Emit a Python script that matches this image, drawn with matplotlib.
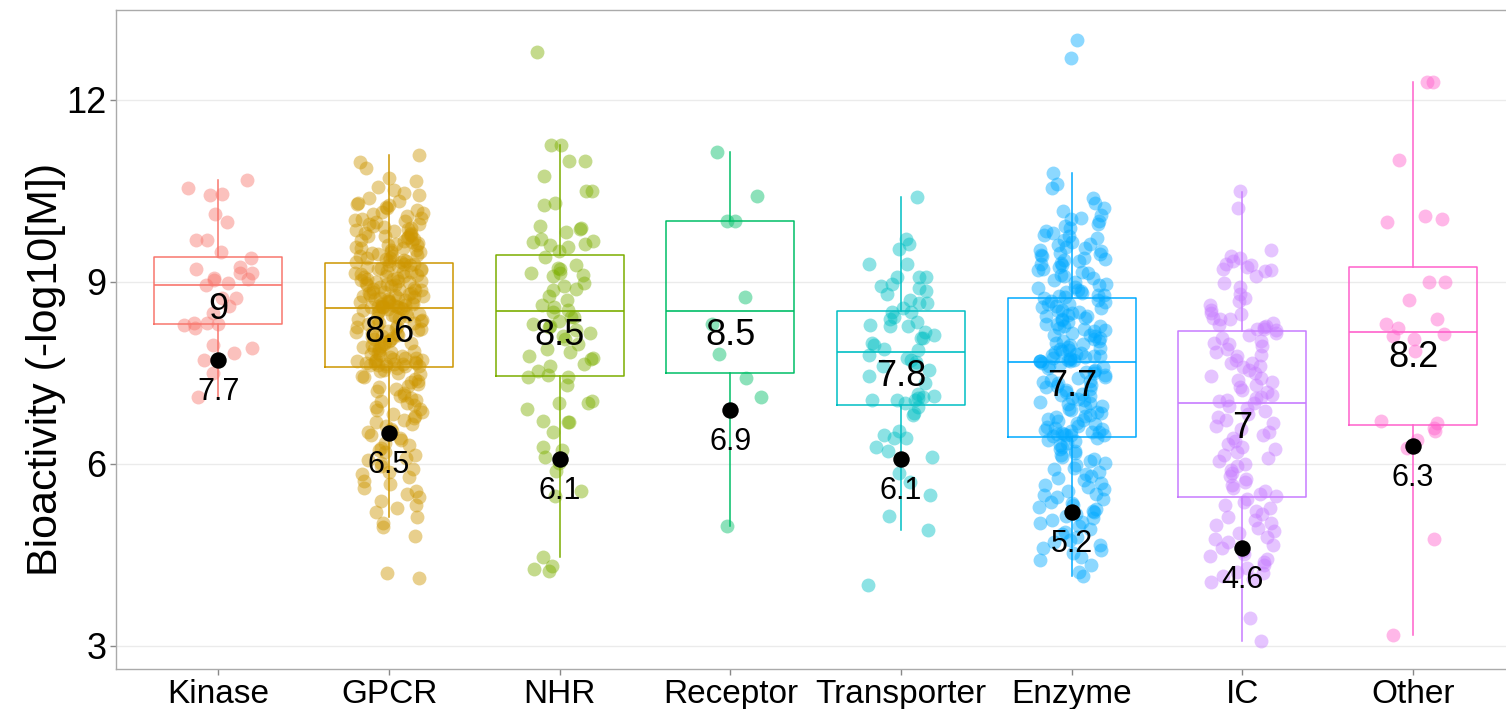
import numpy as np
import matplotlib
matplotlib.use('Agg')
from matplotlib import pyplot as plt

plt.rcParams['font.family'] = ['Liberation Sans', 'DejaVu Sans']

categories = ['Kinase', 'GPCR', 'NHR', 'Receptor', 'Transporter', 'Enzyme', 'IC', 'Other']
colors = ['#F8766D', '#CD9600', '#7CAE00', '#00BE67', '#00BFC4', '#00A9FF', '#C77CFF', '#FF61CC']

# points, one list per target class
kinase = [10.68, 10.55, 10.45, 10.43, 10.12, 9.99, 9.69, 9.69, 9.49, 9.40, 9.25, 9.21, 9.15, 9.15,
          9.06, 9.05, 9.03, 8.98, 8.95, 8.74, 8.74, 8.60, 8.49, 8.32, 8.32, 8.31, 8.29, 8.24,
          7.96, 7.91, 7.83, 7.71, 7.50, 7.10]

gpcr = [11.09, 10.98, 10.88, 10.71, 10.66, 10.57, 10.52, 10.47, 10.43, 10.39, 10.34, 10.3, 10.28, 10.26,
        10.23, 10.21, 10.19, 10.15, 10.14, 10.11, 10.08, 10.06, 10.04, 10.02, 10.01, 9.98, 9.96, 9.95,
        9.92, 9.9, 9.88, 9.87, 9.85, 9.84, 9.81, 9.8, 9.79, 9.77, 9.76, 9.75, 9.74, 9.72, 9.71, 9.69,
        9.67, 9.66, 9.64, 9.62, 9.61, 9.6, 9.58, 9.56, 9.55, 9.53, 9.52, 9.5, 9.49, 9.47, 9.46, 9.45,
        9.43, 9.42, 9.4, 9.39, 9.37, 9.36, 9.35, 9.34, 9.33, 9.32,
        9.3, 9.29, 9.28, 9.27, 9.26, 9.24, 9.23, 9.22, 9.21, 9.19, 9.18, 9.17, 9.16, 9.14, 9.13, 9.12,
        9.1, 9.09, 9.08, 9.07, 9.05, 9.04, 9.03, 9.02, 9.01, 9.0, 8.99, 8.98, 8.96, 8.95, 8.94, 8.93,
        8.92, 8.9, 8.89, 8.88, 8.87, 8.86, 8.84, 8.83, 8.82, 8.81, 8.8, 8.79, 8.78, 8.77, 8.76, 8.75,
        8.74, 8.73, 8.72, 8.71, 8.7, 8.69, 8.68, 8.67, 8.66, 8.65, 8.64, 8.63, 8.62, 8.62, 8.61, 8.6,
        8.6, 8.59, 8.59, 8.58, 8.58, 8.57,
        8.56, 8.55, 8.53, 8.52, 8.5, 8.49, 8.47, 8.46, 8.44, 8.43, 8.41, 8.4, 8.38, 8.37, 8.35, 8.33,
        8.32, 8.3, 8.29, 8.27, 8.26, 8.24, 8.22, 8.21, 8.19, 8.17, 8.16, 8.14, 8.12, 8.11, 8.09, 8.07,
        8.06, 8.04, 8.02, 8.01, 7.99, 7.97, 7.96, 7.94, 7.92, 7.91, 7.89, 7.87, 7.86, 7.84, 7.82, 7.81,
        7.79, 7.78, 7.76, 7.75, 7.74, 7.73, 7.72, 7.71, 7.7, 7.69, 7.68, 7.67, 7.66, 7.66, 7.65, 7.64,
        7.64, 7.63, 7.63, 7.62, 7.62, 7.61,
        7.58, 7.55, 7.53, 7.5, 7.48, 7.45, 7.43, 7.4, 7.37, 7.35, 7.32, 7.29, 7.26,
        7.23, 7.2, 7.17, 7.14, 7.12, 7.09, 7.06, 7.03, 7.01,
        6.97, 6.94, 6.91, 6.88, 6.85, 6.82, 6.79, 6.76,
        6.72, 6.69, 6.65, 6.62, 6.58, 6.55, 6.52,
        6.47, 6.43, 6.39, 6.35, 6.31, 6.27,
        6.23, 6.19, 6.14, 6.1, 6.06, 6.02,
        5.97, 5.92, 5.87, 5.83, 5.78,
        5.72, 5.67, 5.61, 5.56, 5.51,
        5.46, 5.39, 5.33, 5.28,
        5.2, 5.12, 5.03, 4.96, 4.81, 4.2, 4.12]

nhr = [12.79, 11.26, 11.26, 10.99, 10.99, 10.75, 10.50, 10.50, 10.30, 10.27, 9.92, 9.89, 9.87, 9.82,
       9.71, 9.68, 9.66, 9.63, 9.61, 9.58, 9.51, 9.41, 9.28, 9.23, 9.21, 9.15, 9.15, 9.12, 9.10,
       8.98, 8.93, 8.88, 8.87, 8.77, 8.70, 8.62, 8.59, 8.54, 8.51, 8.42, 8.42, 8.36, 8.30, 8.27,
       8.26, 8.20, 8.15, 8.10, 8.05, 7.98, 7.90, 7.85, 7.78, 7.75, 7.73, 7.65, 7.62, 7.53, 7.47,
       7.43, 7.43, 7.30, 7.04, 7.01, 7.01, 6.91, 6.71, 6.69, 6.69, 6.53, 6.28, 6.23, 6.12, 6.07,
       6.02, 5.88, 5.55, 5.47, 4.47, 4.32, 4.27, 4.24]

receptor = [11.14, 10.42, 10.0, 10.0, 8.75, 8.31, 7.81, 7.42, 7.11, 4.98]

transporter = [10.40, 9.71, 9.63, 9.54, 9.30, 9.30, 9.08, 9.08, 9.08, 8.97, 8.93, 8.90, 8.85, 8.80,
               8.70, 8.65, 8.65, 8.57, 8.51, 8.51, 8.42, 8.39, 8.34, 8.29, 8.27, 8.27, 8.18, 8.13,
               8.08, 8.08, 8.00, 7.96, 7.90, 7.88, 7.80, 7.75, 7.72, 7.68, 7.63, 7.62, 7.55, 7.45,
               7.34, 7.15, 7.12, 7.10, 7.08, 7.05, 7.05, 7.05, 7.00, 6.94, 6.84, 6.81, 6.55, 6.48,
               6.43, 6.43, 6.28, 6.21, 6.11, 5.85, 5.70, 5.49, 5.14, 4.91, 4.01]

enzyme = [12.99, 12.69,
          10.79, 10.62, 10.55, 10.38, 10.3, 10.22, 10.16, 10.1, 10.06, 10.03, 10.0, 9.95, 9.92, 9.88,
          9.84, 9.8, 9.78, 9.76, 9.72, 9.69, 9.66, 9.63, 9.6, 9.58, 9.55, 9.53, 9.51, 9.48, 9.46, 9.44,
          9.42, 9.4, 9.38, 9.36, 9.34, 9.31, 9.29, 9.27, 9.25, 9.22, 9.2, 9.17, 9.14, 9.12, 9.09, 9.06,
          9.03, 9.0, 8.97, 8.95, 8.92, 8.9, 8.87, 8.85, 8.83, 8.81, 8.79, 8.78, 8.76, 8.75,
          8.73, 8.7, 8.69, 8.66, 8.64, 8.63, 8.6, 8.58, 8.57, 8.54, 8.52, 8.51, 8.49, 8.46, 8.44, 8.43,
          8.4, 8.38, 8.37, 8.34, 8.31, 8.3, 8.28, 8.27, 8.24, 8.22, 8.2, 8.19, 8.16, 8.13, 8.12, 8.1,
          8.08, 8.05, 8.03, 8.02, 7.99, 7.97, 7.96, 7.93, 7.91, 7.9, 7.88, 7.86, 7.84, 7.83, 7.81, 7.8,
          7.78, 7.77, 7.76, 7.75, 7.74, 7.73, 7.72, 7.71, 7.7, 7.7, 7.69, 7.69,
          7.67, 7.65, 7.62, 7.6, 7.58, 7.55, 7.53, 7.51, 7.49, 7.46, 7.44, 7.42, 7.39, 7.37, 7.35, 7.33,
          7.3, 7.28, 7.26, 7.23, 7.21, 7.19, 7.16, 7.14, 7.12, 7.09, 7.07, 7.05, 7.02, 7.0, 6.98, 6.95,
          6.93, 6.91, 6.88, 6.86, 6.84, 6.81, 6.79, 6.77, 6.74, 6.72, 6.7, 6.67, 6.65, 6.63, 6.61, 6.59,
          6.57, 6.56, 6.54, 6.53, 6.52, 6.51, 6.5, 6.49, 6.48, 6.47, 6.47, 6.46,
          6.43, 6.4, 6.37, 6.34, 6.31, 6.28, 6.25, 6.21, 6.18, 6.15, 6.12, 6.08, 6.05, 6.02,
          5.98, 5.94, 5.91, 5.87, 5.83, 5.8, 5.76, 5.73, 5.69, 5.65, 5.62, 5.58, 5.55, 5.51,
          5.48, 5.45, 5.42, 5.38, 5.35, 5.32, 5.29, 5.26, 5.23, 5.2, 5.17, 5.14, 5.11, 5.08, 5.05, 5.02,
          4.97, 4.92, 4.88, 4.84, 4.79, 4.75, 4.71, 4.66, 4.62, 4.58, 4.53,
          4.47, 4.41, 4.34, 4.22, 4.15]

ic = [10.5, 10.22, 9.53, 9.42, 9.4, 9.35, 9.3, 9.28, 9.24, 9.22, 9.2, 9.18, 9.1, 8.98, 8.92, 8.8,
      8.74, 8.69, 8.62, 8.54, 8.49, 8.47, 8.41, 8.39, 8.39, 8.33, 8.29, 8.27, 8.26, 8.23, 8.22, 8.2,
      8.16, 8.13, 8.08, 8.02, 8.0, 7.97, 7.95, 7.9, 7.85, 7.8, 7.77, 7.72, 7.66, 7.66, 7.62, 7.6,
      7.55, 7.5, 7.45, 7.42, 7.38, 7.35, 7.3, 7.26, 7.22, 7.18, 7.14, 7.1, 7.08, 7.05, 7.03, 7.01,
      6.96, 6.92, 6.87, 6.83, 6.78, 6.72, 6.68, 6.62, 6.57, 6.52, 6.48, 6.43, 6.38, 6.33, 6.28, 6.24,
      6.2, 6.15, 6.1, 6.05, 6.0, 5.96, 5.9, 5.85, 5.8, 5.75, 5.7, 5.65, 5.6, 5.55, 5.5, 5.47,
      5.42, 5.38, 5.33, 5.28, 5.22, 5.18, 5.12, 5.08, 5.03, 4.99, 4.95, 4.9, 4.86, 4.8, 4.76, 4.72,
      4.66, 4.61, 4.57, 4.52, 4.48, 4.44, 4.38, 4.33, 4.28, 4.22, 4.2, 4.15, 4.1, 4.05, 3.46, 3.08]

other = [12.30, 12.30, 11.0, 10.09, 10.04, 9.99, 9.0, 9.0, 8.70, 8.39, 8.30, 8.24, 8.14, 8.11,
         8.05, 7.86, 6.71, 6.68, 6.59, 6.55, 6.40, 6.27, 4.76, 3.18]

points = [kinase, gpcr, nhr, receptor, transporter, enzyme, ic, other]

# box statistics as drawn in the picture
q1 = [8.31, 7.60, 7.45, 7.50, 6.97, 6.45, 5.46, 6.64]
med = [8.95, 8.57, 8.52, 8.52, 7.85, 7.68, 7.00, 8.17]
q3 = [9.41, 9.31, 9.45, 10.0, 8.52, 8.74, 8.19, 9.25]
whis_lo = [7.10, 5.12, 4.47, 4.98, 4.91, 4.15, 3.08, 3.18]
whis_hi = [10.68, 11.09, 11.26, 11.14, 10.40, 10.79, 10.48, 12.30]
median_labels = ['9', '8.6', '8.5', '8.5', '7.8', '7.7', '7', '8.2']

# the black reference dots
ref_vals = [7.71, 6.51, 6.08, 6.89, 6.08, 5.21, 4.61, 6.30]
ref_labels = ['7.7', '6.5', '6.1', '6.9', '6.1', '5.2', '4.6', '6.3']

fig = plt.figure(figsize=(15.06, 7.09), dpi=100)
ax = fig.add_axes([116 / 1506, 40 / 709, 1399.5 / 1506, 659 / 709])

for i, cat in enumerate(categories):
    pos = i + 1
    c = colors[i]
    stats = [dict(med=med[i], q1=q1[i], q3=q3[i], whislo=whis_lo[i], whishi=whis_hi[i], fliers=[])]
    ax.bxp(stats, positions=[pos], widths=0.75, showcaps=False, showfliers=False,
           boxprops=dict(color=c, linewidth=1.1),
           whiskerprops=dict(color=c, linewidth=1.1),
           medianprops=dict(color=c, linewidth=1.2), manage_ticks=False)

    ys = np.array(points[i])
    # deterministic hash-style jitter, like ggplot's geom_jitter(width=0.2)
    k = np.arange(len(ys)) + 1 + 100 * i
    jit = (np.sin(k * 12.9898) * 43758.5453) % 1.0
    xs = pos + (jit - 0.5) * 0.4
    ax.scatter(xs, ys, s=100, color=c, alpha=0.45, linewidths=0, zorder=3)

    ax.scatter([pos], [ref_vals[i]], s=140, color='black', linewidths=0, zorder=4)
    ax.annotate(median_labels[i], (pos, med[i]), xytext=(0, -18), textcoords='offset points',
                ha='center', va='center', fontsize=26, zorder=5)
    ax.annotate(ref_labels[i], (pos, ref_vals[i]), xytext=(0, -23), textcoords='offset points',
                ha='center', va='center', fontsize=22, zorder=5)

ax.set_xlim(0.4, 8.6)
ax.set_ylim(2.62, 13.48)
ax.set_xticks(range(1, 9))
ax.set_xticklabels(categories)
ax.set_yticks([3, 6, 9, 12])
ax.yaxis.grid(True, color='#EBEBEB', linewidth=1.0)
ax.set_axisbelow(True)
ax.tick_params(labelsize=24, length=4, width=1, color='#888888', pad=3, labelcolor='black')
ax.tick_params(axis='y', labelsize=26)
ax.set_ylabel('Bioactivity (-log10[M])', fontsize=31)
ax.yaxis.set_label_coords(-0.0357, 0.455)

for side in ['left', 'bottom', 'top']:
    ax.spines[side].set_color('#AAAAAA')
    ax.spines[side].set_linewidth(1.0)
ax.spines['right'].set_visible(False)

plt.savefig('out.png', dpi=100)
